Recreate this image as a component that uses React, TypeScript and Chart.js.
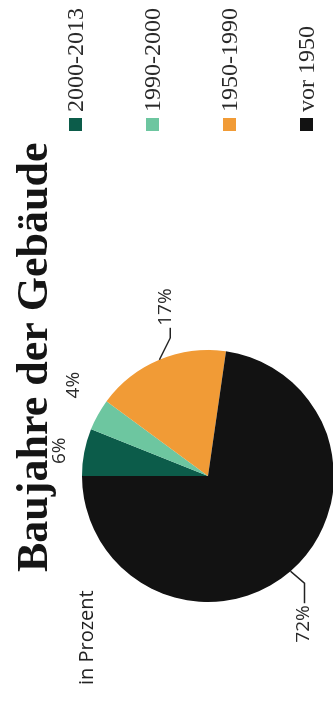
import { useEffect, useRef } from 'react';
import { Chart, registerables } from 'chart.js';

Chart.register(...registerables);

// ---- data ----
const TITLE = 'Baujahre der Gebäude';
const UNIT = 'in Prozent';
const categories = ['2000-2013', '1990-2000', '1950-1990', 'vor 1950'];
const shares = [6, 4, 17, 72];
const colors = ['#0c5c4a', '#6dc6a0', '#f19b36', '#121212'];

// the whole chart is laid out unrotated (W x H) and turned by -90deg, as in the scan
const W = 717;
const H = 335;

const labelPlacement = [
  { kind: 'plain', radial: 25, turn: -1.3 },
  { kind: 'plain', radial: 36, turn: 5 },
  { kind: 'leader', elbow: [22, 11], run: 10 },
  { kind: 'leader', elbow: [-12, 14], run: -20 },
];

const overlay = {
  id: 'overlay',
  afterDatasetsDraw(chart: any) {
    const ctx: CanvasRenderingContext2D = chart.ctx;
    const arcs = chart.getDatasetMeta(0).data;
    ctx.save();

    // title
    ctx.fillStyle = '#151515';
    ctx.textAlign = 'left';
    ctx.textBaseline = 'alphabetic';
    ctx.font = 'bold 44px "Liberation Serif", serif';
    ctx.fillText(TITLE, 145, 47);

    // unit
    ctx.fillStyle = '#222';
    ctx.font = '20px "Open Sans", sans-serif';
    ctx.fillText(UNIT, 32, 93);

    // legend
    categories.forEach((c, i) => {
      ctx.fillStyle = colors[i];
      ctx.fillRect(586, 69 + i * 77, 13, 13);
      ctx.fillStyle = '#2a2a2a';
      ctx.font = '24px "Liberation Serif", serif';
      ctx.textAlign = 'left';
      ctx.textBaseline = 'alphabetic';
      ctx.fillText(c, 605, 83 + i * 77);
    });

    // percent labels
    ctx.font = '19px "Open Sans", sans-serif';
    ctx.strokeStyle = '#222';
    ctx.lineWidth = 1.5;
    arcs.forEach((arc: any, i: number) => {
      const p = labelPlacement[i];
      const mid = (arc.startAngle + arc.endAngle) / 2;
      const text = `${shares[i]}%`;
      ctx.fillStyle = '#2a2a2a';
      if (p.kind === 'plain') {
        const a = mid + ((p.turn as number) * Math.PI) / 180;
        const r = arc.outerRadius + (p.radial as number);
        ctx.textAlign = 'center';
        ctx.textBaseline = 'middle';
        ctx.fillText(text, arc.x + r * Math.cos(a), arc.y + r * Math.sin(a));
      } else {
        const ex = arc.x + arc.outerRadius * Math.cos(mid);
        const ey = arc.y + arc.outerRadius * Math.sin(mid);
        const [dx, dy] = p.elbow as number[];
        const run = p.run as number;
        const bx = ex + dx;
        const by = ey + dy;
        ctx.beginPath();
        ctx.moveTo(ex, ey);
        ctx.lineTo(bx, by);
        ctx.lineTo(bx + run, by);
        ctx.stroke();
        ctx.textBaseline = 'alphabetic';
        if (run > 0) {
          ctx.textAlign = 'left';
          ctx.fillText(text, bx + run + 2, by + 1);
        } else {
          ctx.textAlign = 'right';
          ctx.fillText(text, bx + run - 2, by + 4);
        }
      }
    });
    ctx.restore();
  },
};

export default function App() {
  const ref = useRef<HTMLCanvasElement>(null);
  useEffect(() => {
    document.documentElement.style.overflow = 'hidden';
    document.body.style.overflow = 'hidden';
    const chart = new Chart(ref.current as HTMLCanvasElement, {
      type: 'pie',
      data: {
        labels: categories,
        datasets: [
          {
            data: shares,
            backgroundColor: colors,
            borderWidth: 0,
          },
        ],
      },
      options: {
        animation: false,
        responsive: false,
        events: [],
        rotation: 0,
        layout: { padding: { left: 115, right: 350, top: 82, bottom: 1 } },
        plugins: {
          legend: { display: false },
          tooltip: { enabled: false },
          title: { display: false },
        },
      },
      plugins: [overlay],
    });
    return () => chart.destroy();
  }, []);
  return (
    <div
      style={{
        position: 'fixed',
        left: 0,
        top: 0,
        width: W,
        height: H,
        background: '#fff',
        transformOrigin: '0 0',
        transform: 'translate(0px, 717px) rotate(-90deg)',
      }}
    >
      <canvas ref={ref} width={W} height={H} style={{ display: 'block', width: W, height: H }} />
    </div>
  );
}
